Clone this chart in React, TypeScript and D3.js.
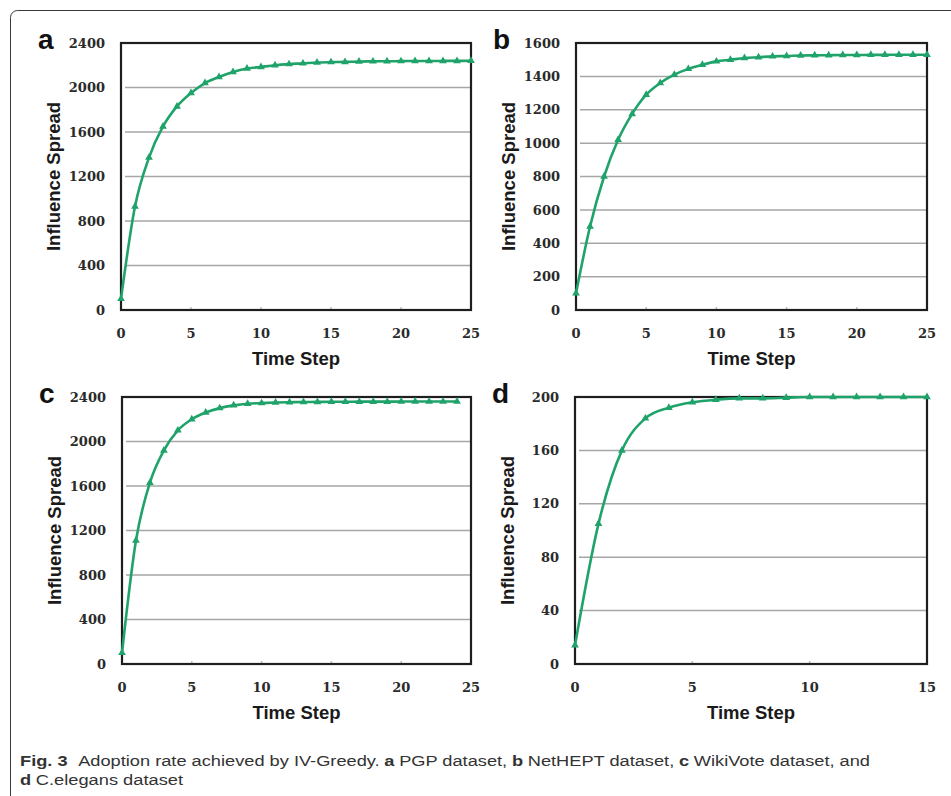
import { useEffect, useRef } from 'react'
import * as d3 from 'd3'

// Influence spread per time step
const stepsA = d3.range(0, 26)
const spreadA = [100, 930, 1370, 1650, 1830, 1950, 2040, 2095, 2140, 2170, 2185, 2200, 2210, 2217, 2225, 2228, 2230, 2233, 2235, 2236, 2237, 2238, 2238, 2239, 2239, 2240]

const stepsB = d3.range(0, 26)
const spreadB = [100, 500, 800, 1020, 1175, 1290, 1360, 1410, 1445, 1470, 1490, 1500, 1510, 1515, 1520, 1522, 1525, 1526, 1527, 1528, 1528, 1529, 1529, 1530, 1530, 1530]

const stepsC = d3.range(0, 25)
const spreadC = [100, 1110, 1630, 1920, 2100, 2200, 2260, 2300, 2325, 2340, 2345, 2350, 2353, 2355, 2356, 2357, 2357, 2358, 2358, 2358, 2359, 2359, 2359, 2360, 2360]

const stepsD = d3.range(0, 16)
const spreadD = [14, 105, 160, 184, 192, 196, 198, 199, 199, 199.5, 200, 200, 200, 200, 200, 200]

// tick labels
const yTicksPGP = [0, 400, 800, 1200, 1600, 2000, 2400]
const yTicksHEPT = [0, 200, 400, 600, 800, 1000, 1200, 1400, 1600]
const yTicksElegans = [0, 40, 80, 120, 160, 200]
const xTicks25 = [0, 5, 10, 15, 20, 25]
const xTicks15 = [0, 5, 10, 15]

const panelLetters = ['a', 'b', 'c', 'd']
const yTitle = 'Influence Spread'
const xTitle = 'Time Step'

const GREEN = '#1fa36a'

const App = () => {
  const svgRef = useRef()

  useEffect(() => {
    const svg = d3.select(svgRef.current)
    svg.selectAll('*').remove()

    const panels = [
      { letter: panelLetters[0], box: [121, 471, 43, 310], xs: stepsA, ys: spreadA, yMax: 2400, yTicks: yTicksPGP, xMax: 25, xTicks: xTicks25 },
      { letter: panelLetters[1], box: [576, 927, 43, 310], xs: stepsB, ys: spreadB, yMax: 1600, yTicks: yTicksHEPT, xMax: 25, xTicks: xTicks25 },
      { letter: panelLetters[2], box: [122, 471, 397, 664], xs: stepsC, ys: spreadC, yMax: 2400, yTicks: yTicksPGP, xMax: 25, xTicks: xTicks25 },
      { letter: panelLetters[3], box: [575, 927, 397, 664], xs: stepsD, ys: spreadD, yMax: 200, yTicks: yTicksElegans, xMax: 15, xTicks: xTicks15 },
    ]

    // outer figure box, runs off the right and bottom edges
    svg
      .append('rect')
      .attr('x', 10.5)
      .attr('y', 10.5)
      .attr('width', 960)
      .attr('height', 800)
      .attr('rx', 7)
      .attr('fill', 'none')
      .attr('stroke', '#3a3a3a')
      .attr('stroke-width', 1)

    panels.forEach((p) => {
      const [left, right, top, bottom] = p.box
      const x = d3.scaleLinear().domain([0, p.xMax]).range([left, right])
      const y = d3.scaleLinear().domain([0, p.yMax]).range([bottom, top])
      const g = svg.append('g')

      // gridlines
      g.selectAll('.grid')
        .data(p.yTicks.filter((t) => t > 0 && t < p.yMax))
        .enter()
        .append('line')
        .attr('x1', left + 4)
        .attr('x2', right)
        .attr('y1', (d) => y(d))
        .attr('y2', (d) => y(d))
        .attr('stroke', '#a6a6a6')
        .attr('stroke-width', 1.5)

      // small inward ticks on the bottom axis
      g.selectAll('.xtick')
        .data(p.xTicks.filter((t) => t > 0 && t < p.xMax))
        .enter()
        .append('line')
        .attr('x1', (d) => x(d))
        .attr('x2', (d) => x(d))
        .attr('y1', bottom)
        .attr('y2', bottom - 3)
        .attr('stroke', '#bbb')
        .attr('stroke-width', 1.5)

      // plot frame
      g.append('rect')
        .attr('x', left)
        .attr('y', top)
        .attr('width', right - left)
        .attr('height', bottom - top)
        .attr('fill', 'none')
        .attr('stroke', '#1e1e1e')
        .attr('stroke-width', 2.2)

      // y tick labels
      g.selectAll('.ylab')
        .data(p.yTicks)
        .enter()
        .append('text')
        .attr('x', left - 16)
        .attr('y', (d) => y(d))
        .attr('dy', '0.36em')
        .attr('text-anchor', 'end')
        .style('font-family', '"DejaVu Serif", serif')
        .style('font-weight', 'bold')
        .style('font-size', '13px')
        .style('fill', '#2a2a2a')
        .text((d) => d)

      // x tick labels
      g.selectAll('.xlab')
        .data(p.xTicks)
        .enter()
        .append('text')
        .attr('x', (d) => x(d))
        .attr('y', bottom + 28)
        .attr('text-anchor', 'middle')
        .style('font-family', '"DejaVu Serif", serif')
        .style('font-weight', 'bold')
        .style('font-size', '13px')
        .style('fill', '#2a2a2a')
        .text((d) => d)

      // axis titles
      g.append('text')
        .attr('transform', `translate(${left - 61}, ${(top + bottom) / 2}) rotate(-90)`)
        .attr('text-anchor', 'middle')
        .style('font-family', '"Liberation Sans", Arial, sans-serif')
        .style('font-weight', 'bold')
        .style('font-size', '18.5px')
        .style('fill', '#1a1a1a')
        .text(yTitle)

      g.append('text')
        .attr('x', (left + right) / 2)
        .attr('y', bottom + 54.5)
        .attr('text-anchor', 'middle')
        .style('font-family', '"Liberation Sans", Arial, sans-serif')
        .style('font-weight', 'bold')
        .style('font-size', '18.5px')
        .style('fill', '#1a1a1a')
        .text(xTitle)

      // panel letter
      g.append('text')
        .attr('x', left - 83)
        .attr('y', top + 6)
        .style('font-family', '"Liberation Sans", Arial, sans-serif')
        .style('font-weight', 'bold')
        .style('font-size', '28px')
        .style('fill', '#111')
        .text(p.letter)

      // smoothed series line
      const pts = p.xs.map((d, i) => [d, p.ys[i]])
      const line = d3
        .line()
        .x((d) => x(d[0]))
        .y((d) => y(d[1]))
        .curve(d3.curveMonotoneX)

      g.append('path')
        .datum(pts)
        .attr('d', line)
        .attr('fill', 'none')
        .attr('stroke', GREEN)
        .attr('stroke-width', 2.6)

      // triangle markers
      g.selectAll('.marker')
        .data(pts)
        .enter()
        .append('path')
        .attr('transform', (d) => `translate(${x(d[0])}, ${y(d[1])})`)
        .attr('d', d3.symbol().type(d3.symbolTriangle).size(26))
        .attr('fill', GREEN)
    })

    // caption: each run is its own text, squeezed so the line hits the reference width
    const captionLines = [
      {
        y: 766,
        width: 850,
        parts: [
          ['Fig. 3', true],
          ['Adoption rate achieved by IV-Greedy.', false],
          ['a', true],
          ['PGP dataset,', false],
          ['b', true],
          ['NetHEPT dataset,', false],
          ['c', true],
          ['WikiVote dataset, and', false],
        ],
      },
      {
        y: 785,
        width: 163,
        parts: [
          ['d', true],
          ['C.elegans dataset', false],
        ],
      },
    ]

    captionLines.forEach((ln) => {
      const gaps = ln.parts.map((_, i) => (i === 0 ? 0 : i === 1 && ln.parts.length > 2 ? 9 : 4))
      const nodes = ln.parts.map(([s, b]) =>
        svg
          .append('text')
          .attr('y', ln.y)
          .style('font-family', '"Liberation Sans", Arial, sans-serif')
          .style('font-size', '15.5px')
          .style('font-weight', b ? 'bold' : 'normal')
          .style('fill', '#333')
          .text(s)
      )
      const widths = nodes.map((n) => n.node().getComputedTextLength() || 10)
      const total = d3.sum(widths) + d3.sum(gaps)
      const k = ln.width / total
      let cx = 20
      nodes.forEach((n, i) => {
        cx += gaps[i] * k
        const w = widths[i] * k
        n.attr('x', cx).attr('textLength', w).attr('lengthAdjust', 'spacingAndGlyphs')
        cx += w
      })
    })
  }, [])

  return (
    <svg
      ref={svgRef}
      width='951'
      height='796'
      style={{ position: 'absolute', left: 0, top: 0, background: '#fff' }}
    />
  )
}

export default App
